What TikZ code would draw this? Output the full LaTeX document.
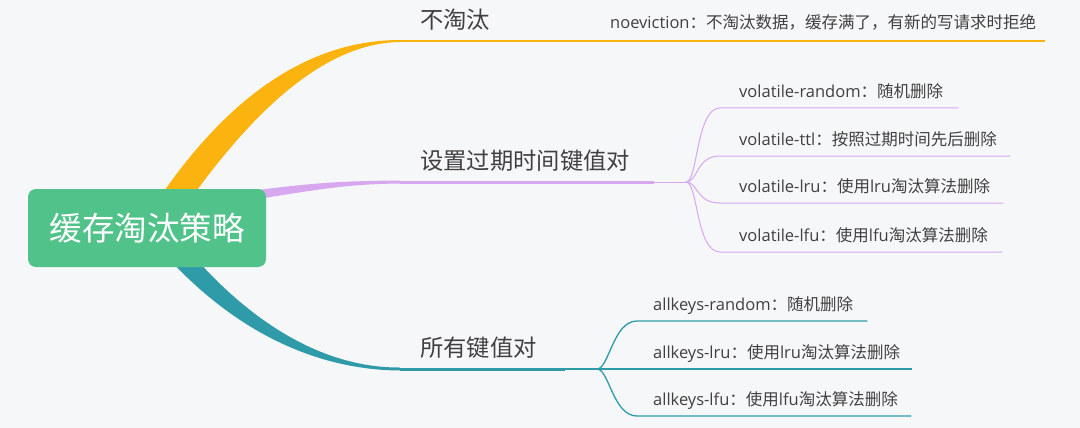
\documentclass[tikz,border=0pt]{standalone}
\usepackage{fontspec}
\usepackage{tikz}
\newfontfamily\cjk{Noto Sans CJK SC}
\newfontfamily\enfont{Open Sans}
\exhyphenpenalty=10000
\hyphenpenalty=10000
\pgfdeclarelayer{background}
\pgfsetlayers{background,main}
\definecolor{bgcol}{HTML}{F6F7F8}
\definecolor{rootgreen}{HTML}{52C28B}
\definecolor{orangebr}{HTML}{FBB40F}
\definecolor{purplebr}{HTML}{D7A7EF}
\definecolor{tealbr}{HTML}{2F9BA8}
\definecolor{txtgray}{HTML}{404040}
\tikzset{
  root/.style={fill=rootgreen, rounded corners=8pt, minimum width=238pt, minimum height=78pt,
    inner sep=0pt, text=white, font=\cjk\fontsize{32.5}{38}\selectfont},
  branch/.style={anchor=south west, inner xsep=20pt, inner ysep=7pt, text height=17pt, text depth=5pt,
    align=left, text=txtgray, font=\cjk\fontsize{23.3}{27}\selectfont},
  leaf/.style={anchor=south west, inner ysep=6pt, text height=12pt, text depth=4pt,
    align=left, text=txtgray, font=\cjk\fontsize{16.5}{19}\selectfont},
  fork/.style={out=0, in=180, out distance=12pt, in distance=24pt},
}

\begin{document}
\begin{tikzpicture}[x=1pt,y=-1pt]
\useasboundingbox (0,0) rectangle (1080,428);
\node[root] (root) at (147,228) {缓存淘汰策略};
\node[branch, text width=80pt] (b1) at (400,41) {不淘汰};
\node[branch, text width=214pt] (b2) at (400,182) {设置过期时间键值对};
\node[branch, text width=125pt] (b3) at (400,369) {所有键值对};
\coordinate (f2) at (686,182);
\coordinate (f3) at (597,369);
\node[leaf, inner xsep=90pt, text width=345pt, inner ysep=8pt] (n1) at (520,41) {{\enfont noeviction}：不淘汰数据，缓存满了，有新的写请求时拒绝};
\node[leaf, inner xsep=19pt, text width=200pt] (vr) at (720,108) {{\enfont volatile-random}：随机删除};
\node[leaf, inner xsep=19pt, text width=252pt] (vt) at (720,156) {{\enfont volatile-ttl}：按照过期时间先后删除};
\node[leaf, inner xsep=19pt, text width=245pt] (vl) at (720,203) {{\enfont volatile-lru}：使用{\enfont lru}淘汰算法删除};
\node[leaf, inner xsep=19pt, text width=244pt] (vf) at (720,252) {{\enfont volatile-lfu}：使用{\enfont lfu}淘汰算法删除};
\node[leaf, inner xsep=16pt, text width=198pt] (ar) at (637,321) {{\enfont allkeys-random}：随机删除};
\node[leaf, inner xsep=16pt, text width=243pt] (al) at (637,369) {{\enfont allkeys-lru}：使用{\enfont lru}淘汰算法删除};
\node[leaf, inner xsep=16pt, text width=242pt] (af) at (637,416) {{\enfont allkeys-lfu}：使用{\enfont lfu}淘汰算法删除};
\begin{pgfonlayer}{background}
\fill[bgcol] (0,0) rectangle (1080,428);
% tapered main branches
\fill[orangebr] (160,197) .. controls (230,95) and (310,40) .. ([yshift=1pt]b1.south west)
  -- ([yshift=-1pt]b1.south west) .. controls (325,43) and (255,110) .. (192,197) -- cycle;
\fill[purplebr] (258,190) .. controls (320,182) and (350,181) .. ([yshift=1.5pt]b2.south west)
  -- ([yshift=-1.5pt]b2.south west) .. controls (350,184) and (320,189) .. (258,199) -- cycle;
\fill[tealbr] (197,260) .. controls (260,330) and (330,368) .. ([yshift=1.5pt]b3.south west)
  -- ([yshift=-1.5pt]b3.south west) .. controls (320,370) and (240,335) .. (170,260) -- cycle;
\draw[orangebr, line width=2.5pt] (b1.south west) -- (b1.south east);
\draw[orangebr, line width=1.5pt] (n1.south west) -- (n1.south east);
\draw[purplebr, line width=3pt] (b2.south west) -- (b2.south east);
\draw[purplebr, line width=1pt] (b2.south east) -- (f2);
\draw[tealbr, line width=3pt] (b3.south west) -- (b3.south east);
\draw[tealbr, line width=1.3pt] (b3.south east) -- (f3);
% leaves
\foreach \n in {vr,vt,vl,vf}
  \draw[purplebr, line width=1pt] (f2) to[fork] (\n.south west) -- (\n.south east);
\foreach \n in {ar,al,af}
  \draw[tealbr, line width=1.3pt] (f3) to[fork] (\n.south west) -- (\n.south east);
\end{pgfonlayer}
\end{tikzpicture}
\end{document}
